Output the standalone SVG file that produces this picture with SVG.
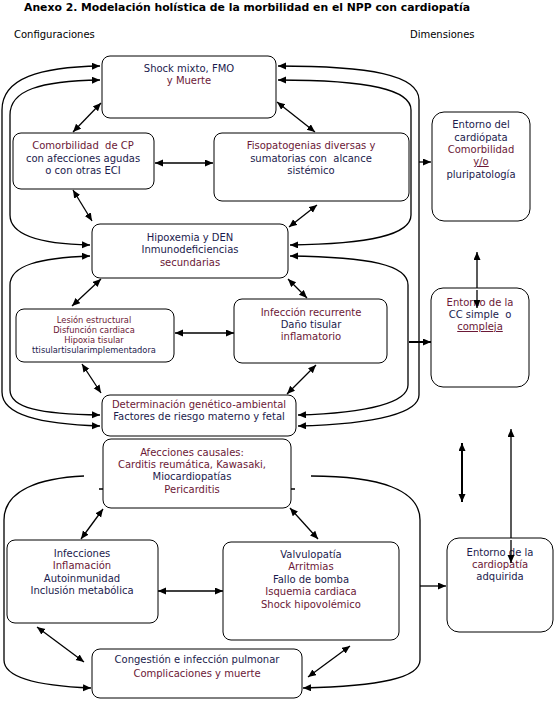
<svg xmlns="http://www.w3.org/2000/svg" width="555" height="703" viewBox="0 0 555 703">
<style>
.box{fill:#fff;stroke:#000;stroke-width:1}
.ln{fill:none;stroke:#000;stroke-width:1.3}
.th{fill:none;stroke:#000;stroke-width:2}
text{font-family:"DejaVu Sans",Verdana,sans-serif;font-size:10px;text-anchor:middle;white-space:pre}
.n{fill:#1b1b4d}
.m{fill:#6b1836}
.k{fill:#000}
.sm{font-size:8.3px}
.u{text-decoration:underline}
</style>
<defs>
<marker id="ah" markerUnits="userSpaceOnUse" markerWidth="9" markerHeight="8" refX="8" refY="3.5" orient="auto-start-reverse"><path d="M0,0 L8,3.5 L0,7 z" fill="#000"/></marker>
</defs>
<rect width="555" height="703" fill="#fff"/>
<text x="24" y="11" class="k" style="text-anchor:start;font-weight:bold" textLength="446" lengthAdjust="spacingAndGlyphs">Anexo 2. Modelación holística de la morbilidad en el NPP con cardiopatía</text>
<text x="14" y="38" class="k" style="text-anchor:start">Configuraciones</text>
<text x="410" y="38" class="k" style="text-anchor:start">Dimensiones</text>

<g id="connectors">
<path class="ln" d="M100,66 C40,67 2,78 2,110 L2,392 C2,415 40,424 100,426" marker-start="url(#ah)" marker-end="url(#ah)"/>
<path class="ln" d="M100,80 C40,81 10,90 10,115 L10,215 C10,235 40,244 90,245" marker-start="url(#ah)" marker-end="url(#ah)"/>
<path class="ln" d="M90,256 C40,258 10,265 10,285 L10,390 C10,408 40,414 100,415" marker-start="url(#ah)" marker-end="url(#ah)"/>
<path class="ln" d="M278,66 C370,66 419,75 419,100 L419,395 C419,412 380,424 298,426" marker-start="url(#ah)" marker-end="url(#ah)"/>
<path class="ln" d="M278,80 C370,80 411,90 411,110 L411,215 C411,235 370,244 290,245" marker-start="url(#ah)" marker-end="url(#ah)"/>
<path class="ln" d="M290,256 C370,257 408,265 408,285 L408,385 C408,402 370,413 298,415" marker-start="url(#ah)" marker-end="url(#ah)"/>
<path class="ln" d="M84,476 C40,478 4,490 4,520 L4,660 C4,678 40,686 91,688" marker-end="url(#ah)"/>
<path class="ln" d="M311,476 C380,476 420,490 420,520 L420,660 C420,678 380,686 303,688" marker-end="url(#ah)"/>
<path class="ln" d="M99,489 H103 M291,489 H295"/>
<path class="ln" d="M419,162 H431" marker-end="url(#ah)"/>
<path class="th" d="M409,342 H431" marker-end="url(#ah)"/>
<path class="ln" d="M420,586 H446" marker-end="url(#ah)"/>
<path class="ln" d="M477,252 V308" marker-start="url(#ah)" marker-end="url(#ah)"/>
<path class="th" d="M462,443 V502" marker-start="url(#ah)" marker-end="url(#ah)"/>
<path class="ln" d="M511,429 V563" marker-start="url(#ah)" marker-end="url(#ah)"/>
<path class="ln" d="M101,103 L73,132" marker-start="url(#ah)" marker-end="url(#ah)"/>
<path class="ln" d="M277,102 L315,132" marker-start="url(#ah)" marker-end="url(#ah)"/>
<path class="ln" d="M155,163 L213,163" marker-start="url(#ah)" marker-end="url(#ah)"/>
<path class="ln" d="M73,190 L92,221" marker-start="url(#ah)" marker-end="url(#ah)"/>
<path class="ln" d="M317,205 L289,227" marker-start="url(#ah)" marker-end="url(#ah)"/>
<path class="ln" d="M101,279 L72,306" marker-start="url(#ah)" marker-end="url(#ah)"/>
<path class="ln" d="M288,279 L307,298" marker-start="url(#ah)" marker-end="url(#ah)"/>
<path class="ln" d="M175,333 L234,333" marker-start="url(#ah)" marker-end="url(#ah)"/>
<path class="ln" d="M82,364 L101,393" marker-start="url(#ah)" marker-end="url(#ah)"/>
<path class="ln" d="M316,365 L287,394" marker-start="url(#ah)" marker-end="url(#ah)"/>
<path class="ln" d="M103,509 L81,539" marker-start="url(#ah)" marker-end="url(#ah)"/>
<path class="ln" d="M290,508 L318,539" marker-start="url(#ah)" marker-end="url(#ah)"/>
<path class="ln" d="M158,591 L223,591" marker-start="url(#ah)" marker-end="url(#ah)"/>
<path class="ln" d="M37,627 L84,662" marker-start="url(#ah)" marker-end="url(#ah)"/>
<path class="ln" d="M350,646 L308,677" marker-start="url(#ah)" marker-end="url(#ah)"/>
</g>

<g id="shock"><rect class="box" x="102" y="56" width="174" height="62" rx="8"/>
<text x="189" y="72" class="n">Shock mixto, FMO</text><text x="189" y="84" class="m">y Muerte</text></g>
<g id="comorbilidad"><rect class="box" x="13" y="133" width="141" height="56" rx="8"/>
<text x="83" y="149" class="m">Comorbilidad  de CP</text><text x="83" y="162" class="n">con afecciones agudas</text><text x="83" y="174" class="n">o con otras ECI</text></g>
<g id="fisopatogenias"><rect class="box" x="214" y="133" width="195" height="68" rx="8"/>
<text x="311" y="149" class="m">Fisopatogenias diversas y</text><text x="311" y="162" class="n">sumatorias con  alcance</text><text x="311" y="174" class="n">sistémico</text></g>
<g id="hipoxemia"><rect class="box" x="92" y="224" width="196" height="54" rx="8"/>
<text x="190" y="241" class="n">Hipoxemia y DEN</text><text x="190" y="253" class="n">Inmunodeficiencias</text><text x="190" y="266" class="m">secundarias</text></g>
<g id="lesion"><rect class="box" x="16" y="309" width="158" height="53" rx="8"/>
<text x="94" y="323" class="sm m">Lesión estructural</text><text x="94" y="333" class="sm m">Disfunción cardiaca</text><text x="94" y="343" class="sm m">Hipoxia tisular</text><text x="94" y="353" class="sm n">ttisulartisularimplementadora</text></g>
<g id="infeccion"><rect class="box" x="234" y="299" width="153" height="64" rx="8"/>
<text x="311" y="316" class="m">Infección recurrente</text><text x="311" y="328" class="n">Daño tisular</text><text x="311" y="340" class="m">inflamatorio</text></g>
<g id="determinacion"><rect class="box" x="102" y="395" width="194" height="41" rx="8"/>
<text x="199" y="408" class="m">Determinación genético-ambiental</text><text x="199" y="420" class="n">Factores de riesgo materno y fetal</text></g>
<g id="afecciones"><rect class="box" x="103" y="439" width="188" height="69" rx="8"/>
<text x="192" y="456" class="m">Afecciones causales:</text><text x="192" y="468" class="m">Carditis reumática, Kawasaki,</text><text x="192" y="480" class="n">Miocardiopatías</text><text x="192" y="493" class="m">Pericarditis</text></g>
<g id="infecciones"><rect class="box" x="7" y="540" width="151" height="83" rx="8"/>
<text x="82" y="557" class="n">Infecciones</text><text x="82" y="569" class="m">Inflamación</text><text x="82" y="582" class="n">Autoinmunidad</text><text x="82" y="594" class="n">Inclusión metabólica</text></g>
<g id="valvulopatia"><rect class="box" x="223" y="542" width="176" height="98" rx="8"/>
<text x="311" y="558" class="n">Valvulopatía</text><text x="311" y="570" class="m">Arritmias</text><text x="311" y="583" class="n">Fallo de bomba</text><text x="311" y="595" class="m">Isquemia cardiaca</text><text x="311" y="608" class="m">Shock hipovolémico</text></g>
<g id="congestion"><rect class="box" x="92" y="649" width="210" height="49" rx="8"/>
<text x="197" y="663" class="n">Congestión e infección pulmonar</text><text x="197" y="677" class="m">Complicaciones y muerte</text></g>
<g id="entorno1"><rect class="box" x="432" y="112" width="98" height="109" rx="12"/>
<text x="481" y="128" class="n">Entorno del</text><text x="481" y="141" class="n">cardiópata</text><text x="481" y="153" class="m">Comorbilidad</text><text x="481" y="165" class="m u">y/o</text><text x="481" y="178" class="n">pluripatología</text></g>
<g id="entorno2"><rect class="box" x="431" y="288" width="98" height="99" rx="12"/>
<text x="480" y="306" class="m">Entorno de la</text><text x="480" y="318" class="n">CC simple  o</text><text x="480" y="330" class="m u">compleja</text></g>
<g id="entorno3"><rect class="box" x="447" y="538" width="106" height="94" rx="12"/>
<text x="500" y="556" class="n">Entorno de la</text><text x="500" y="568" class="m">cardiopatía</text><text x="500" y="580" class="n">adquirida</text></g>
<path class="ln" d="M477,290 V308" marker-end="url(#ah)"/>
<path class="ln" d="M511,540 V563" marker-end="url(#ah)"/>
</svg>
